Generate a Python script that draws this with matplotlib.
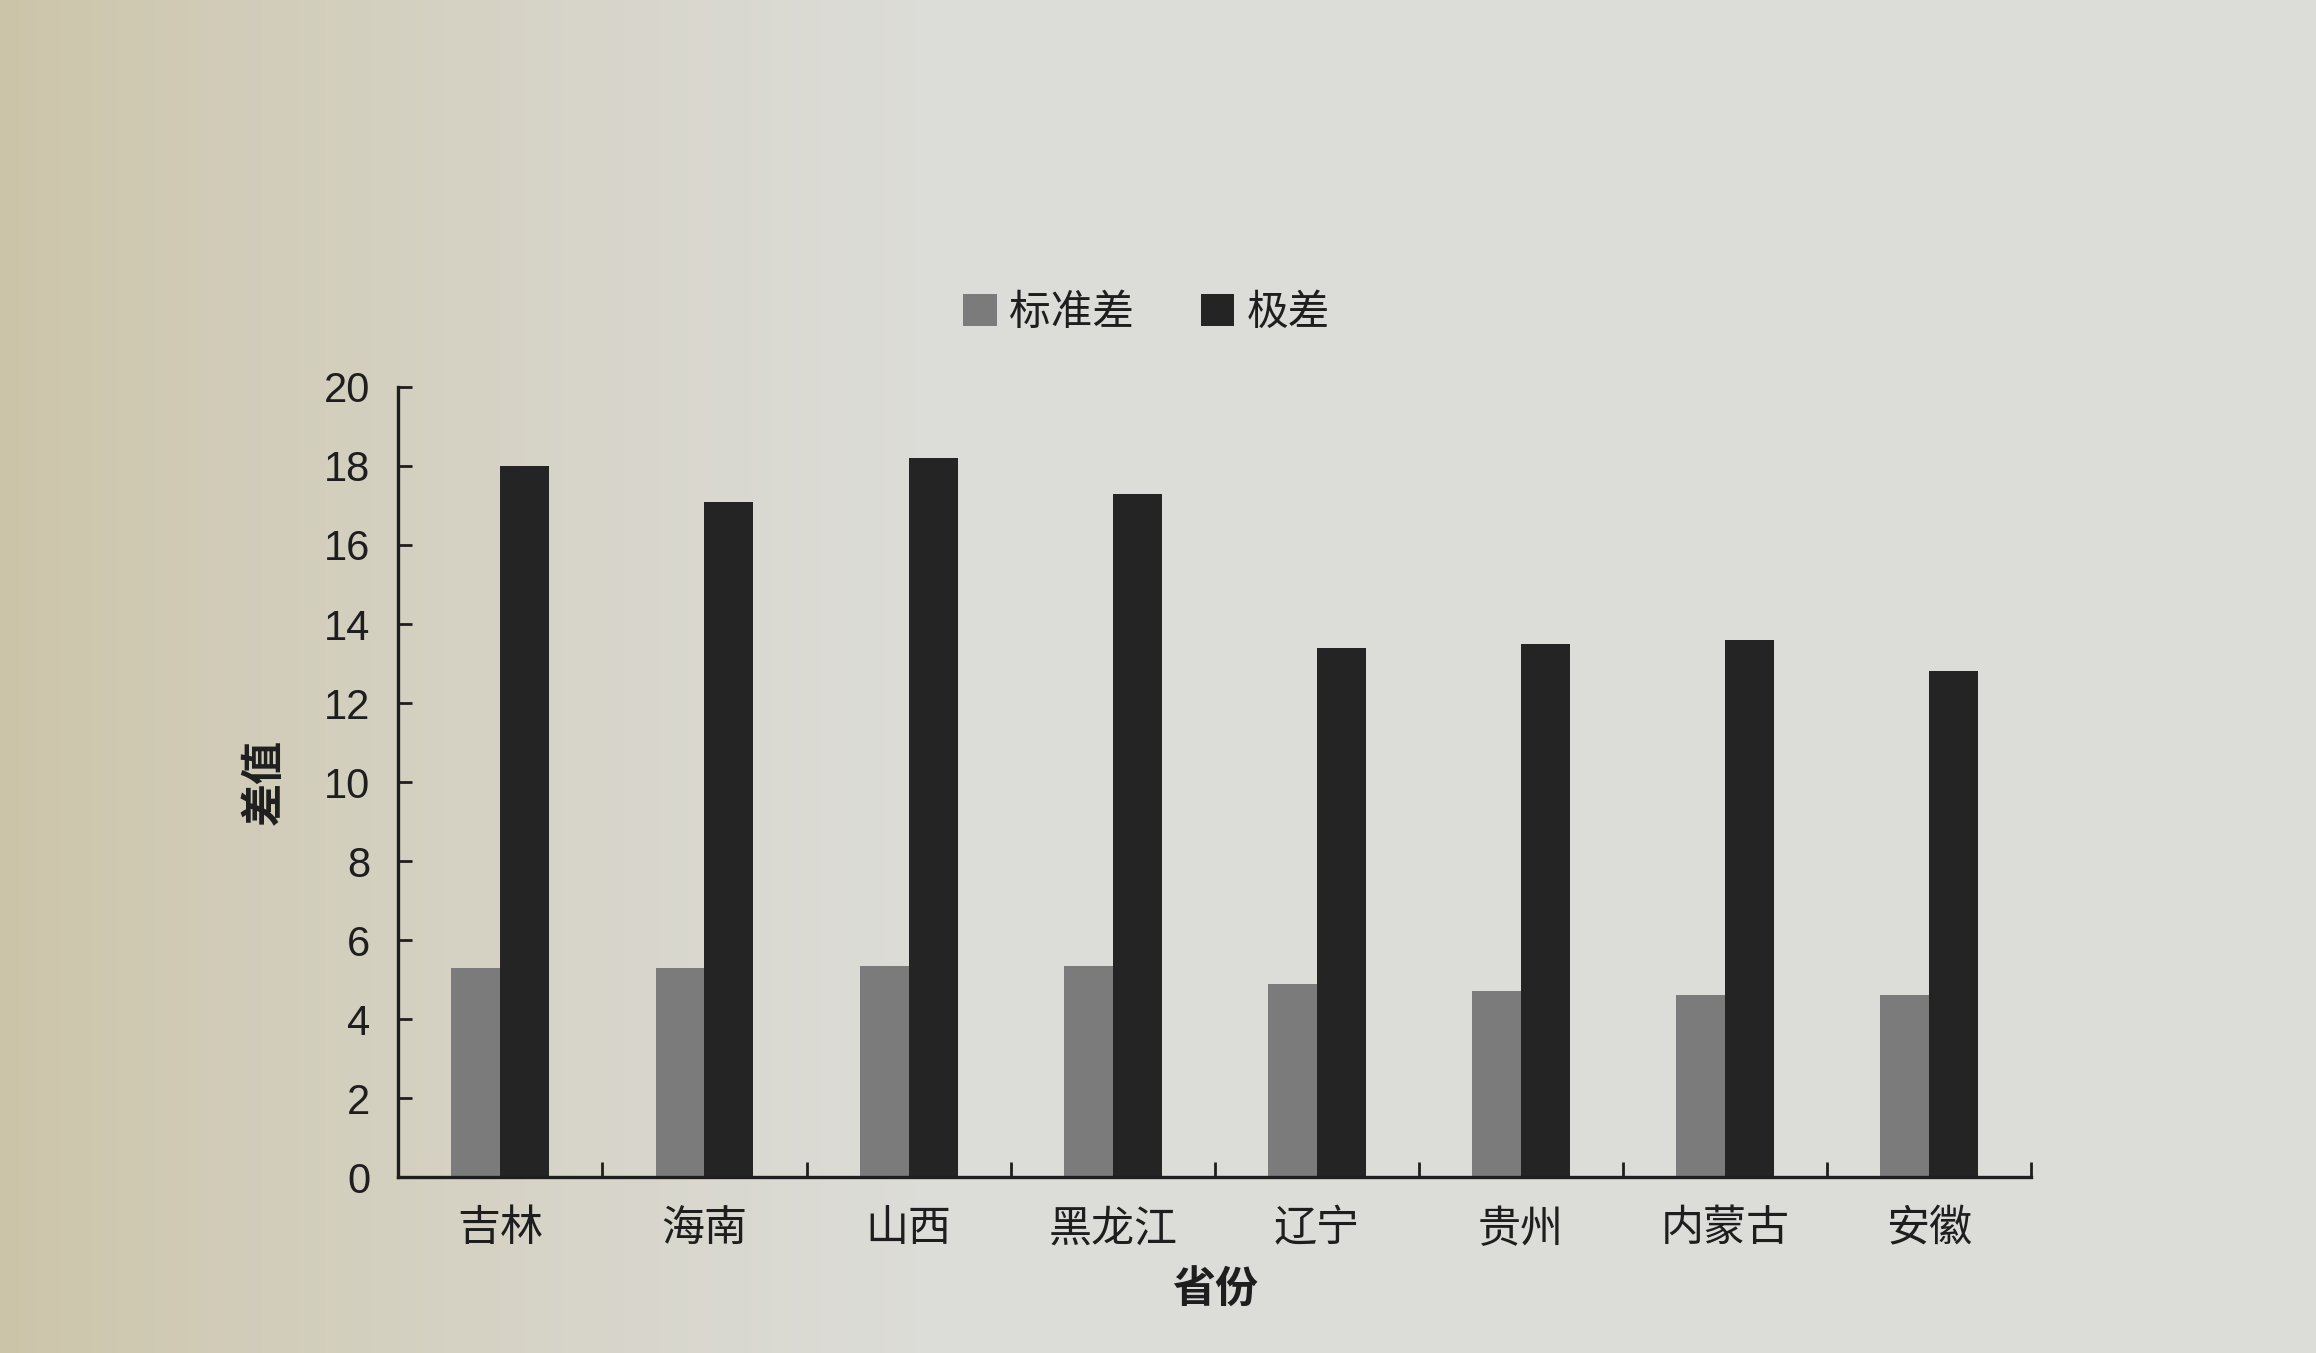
import matplotlib
matplotlib.use("Agg")
import matplotlib.pyplot as plt
import numpy as np
from matplotlib.ticker import FixedLocator

plt.rcParams['font.family'] = ['Liberation Sans', 'Noto Sans CJK SC', 'DejaVu Sans']

provinces = ['吉林', '海南', '山西', '黑龙江', '辽宁', '贵州', '内蒙古', '安徽']
std_dev = [5.3, 5.3, 5.35, 5.35, 4.9, 4.7, 4.6, 4.6]
value_range = [18.0, 17.1, 18.2, 17.3, 13.4, 13.5, 13.6, 12.8]
series_names = ['标准差', '极差']
y_ticks = list(range(0, 21, 2))

fig = plt.figure(figsize=(23.16, 13.53), dpi=100)

# paper-like background (photo of a printed page)
bg = fig.add_axes([0, 0, 1, 1], zorder=-10)
grad = np.linspace(0, 1, 256)
col_l = np.array([0.80, 0.77, 0.66])
col_r = np.array([0.865, 0.865, 0.85])
w = np.clip(grad / 0.4, 0, 1)[None, :, None] ** 0.8
img = col_l * (1 - w) + col_r * w
img = np.repeat(img, 2, axis=0)
bg.imshow(img, aspect='auto', extent=[0, 1, 0, 1])
bg.axis('off')

ax = fig.add_axes([0.172, 0.13, 0.705, 0.584])
ax.patch.set_alpha(0)

x = np.arange(len(provinces))
bw = 0.24
b1 = ax.bar(x - bw / 2, std_dev, width=bw, color='#7b7b7b', label=series_names[0])
b2 = ax.bar(x + bw / 2, value_range, width=bw, color='#242424', label=series_names[1])

ax.set_xlim(-0.5, len(provinces) - 0.5)
ax.set_ylim(0, 20)
ax.set_yticks(y_ticks)
ax.set_xticks(x)
ax.set_xticklabels(provinces, fontweight='medium')
ax.xaxis.set_minor_locator(FixedLocator(np.arange(0.5, len(provinces), 1.0)))

tc = '#1e1e1e'
ax.tick_params(axis='x', which='major', length=0, pad=24, labelsize=31, colors=tc)
ax.tick_params(axis='x', which='minor', direction='in', length=11, width=2, color=tc)
ax.tick_params(axis='y', direction='in', length=10, width=2, pad=20, labelsize=30, colors=tc)

for s in ['top', 'right']:
    ax.spines[s].set_visible(False)
for s in ['left', 'bottom']:
    ax.spines[s].set_linewidth(2.4)
    ax.spines[s].set_color(tc)

ax.set_xlabel('省份', fontsize=31, fontweight='bold', color=tc, labelpad=14)
ax.set_ylabel('差值', fontsize=31, fontweight='bold', color=tc, labelpad=28)

leg = fig.legend(handles=[b1, b2], labels=series_names, loc='center',
                 bbox_to_anchor=(0.495, 0.768), ncol=2, frameon=False,
                 fontsize=30, handlelength=0.8, handleheight=0.8,
                 handletextpad=0.3, columnspacing=1.6)
for t in leg.get_texts():
    t.set_color(tc)

fig.savefig('out.png', dpi=100)
